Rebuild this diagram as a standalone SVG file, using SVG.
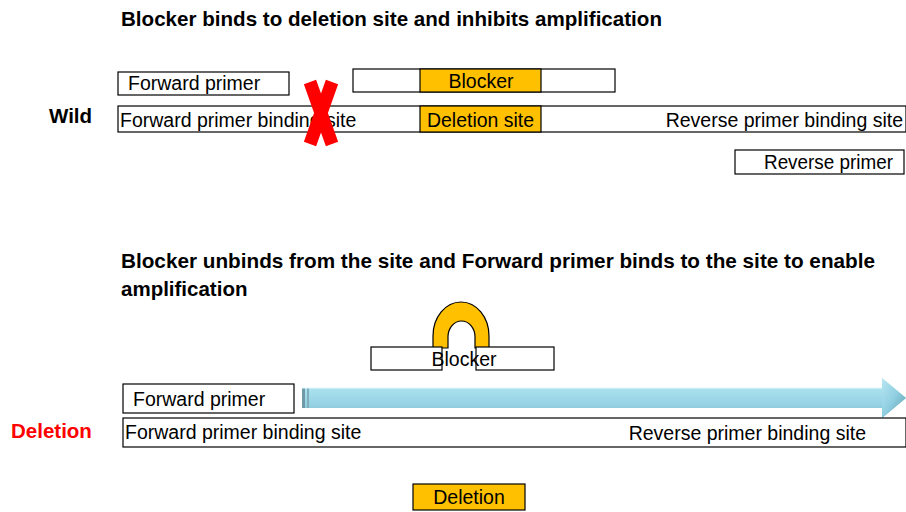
<svg xmlns="http://www.w3.org/2000/svg" width="906" height="512" viewBox="0 0 906 512">
<defs>
<style>
.t{font-family:"Liberation Sans",Arial,sans-serif;font-size:19.5px;fill:#000}
.b{font-family:"Liberation Sans",Arial,sans-serif;font-size:20.5px;font-weight:bold;fill:#000}
.box{fill:#fff;stroke:#000;stroke-width:1.2}
.org{fill:#FFC000;stroke:#000;stroke-width:1.2}
</style>
<linearGradient id="shaft" x1="0" y1="0" x2="0" y2="1">
<stop offset="0" stop-color="#d6f2f8"/>
<stop offset="0.3" stop-color="#a9e0ee"/>
<stop offset="0.7" stop-color="#93d0e2"/>
<stop offset="1" stop-color="#6ea9b9"/>
</linearGradient>
<linearGradient id="head" x1="0" y1="0" x2="1" y2="1">
<stop offset="0" stop-color="#b8e6f2"/>
<stop offset="0.5" stop-color="#8fcfe1"/>
<stop offset="1" stop-color="#5f9aab"/>
</linearGradient>
</defs>
<rect width="906" height="512" fill="#fff"/>

<text class="b" x="121" y="26" textLength="541" lengthAdjust="spacingAndGlyphs">Blocker binds to deletion site and inhibits amplification</text>
<text class="b" x="49" y="123">Wild</text>

<g id="wild-forward-primer">
<rect class="box" x="118" y="72" width="171" height="23"/>
<text class="t" x="128" y="90">Forward primer</text>
</g>
<g id="wild-blocker">
<rect class="box" x="353" y="69" width="262" height="23"/>
<rect class="org" x="420" y="69" width="121" height="23"/>
<text class="t" x="481" y="88" text-anchor="middle">Blocker</text>
</g>
<g id="wild-strand">
<rect class="box" x="118" y="106" width="788" height="26"/>
<rect class="org" x="420" y="106" width="121" height="26"/>
<text class="t" x="120" y="127">Forward primer binding site</text>
<text class="t" x="427" y="127" textLength="107" lengthAdjust="spacingAndGlyphs">Deletion site</text>
<text class="t" x="903" y="127" text-anchor="end">Reverse primer binding site</text>
</g>
<g id="wild-reverse-primer">
<rect class="box" x="735" y="150" width="169" height="24"/>
<text class="t" x="893" y="169" text-anchor="end" textLength="129" lengthAdjust="spacingAndGlyphs">Reverse primer</text>
</g>
<g id="red-x">
<line x1="310" y1="82" x2="332" y2="144" stroke="#ff0000" stroke-width="13"/>
<line x1="332" y1="82" x2="310" y2="144" stroke="#ff0000" stroke-width="13"/>
</g>

<text class="b" x="121" y="268" textLength="754" lengthAdjust="spacingAndGlyphs">Blocker unbinds from the site and Forward primer binds to the site to enable</text>
<text class="b" x="121" y="296">amplification</text>
<text class="b" x="11" y="438" fill="#ff0000" style="fill:#ff0000">Deletion</text>

<g id="del-blocker">
<path d="M433,348 L433,336 A28,34 0 0 1 489,336 L489,348 L475,348 L475,337 A13.5,16 0 0 0 448,337 L448,348 Z" fill="#FFC000" stroke="#000" stroke-width="1.2"/>
<rect class="box" x="371" y="347" width="71" height="23"/>
<rect class="box" x="476" y="347" width="78" height="23"/>
<text class="t" x="464" y="366" text-anchor="middle">Blocker</text>
</g>

<g id="del-forward-primer">
<rect class="box" x="123" y="384" width="171" height="29"/>
<text class="t" x="133" y="406">Forward primer</text>
</g>

<g id="connectors">
<path d="M302,388 L882,388 L882,378 L906,398 L882,418 L882,408 L302,408 Z" fill="url(#shaft)"/>
<path d="M882,378 L906,398 L882,418 Z" fill="url(#head)"/>
<rect x="302" y="388" width="3" height="20" fill="#6f9ba6"/>
<rect x="307" y="388" width="2" height="20" fill="#7fb0bc"/>
<line x1="302" y1="388" x2="882" y2="388" stroke="#e4f6fa" stroke-width="1"/>
</g>

<g id="del-strand">
<rect class="box" x="123" y="418" width="783" height="29"/>
<text class="t" x="125" y="439">Forward primer binding site</text>
<text class="t" x="866" y="440" text-anchor="end">Reverse primer binding site</text>
</g>

<g id="deletion">
<rect class="org" x="413" y="484" width="112" height="26"/>
<text class="t" x="469" y="504" text-anchor="middle">Deletion</text>
</g>
</svg>
